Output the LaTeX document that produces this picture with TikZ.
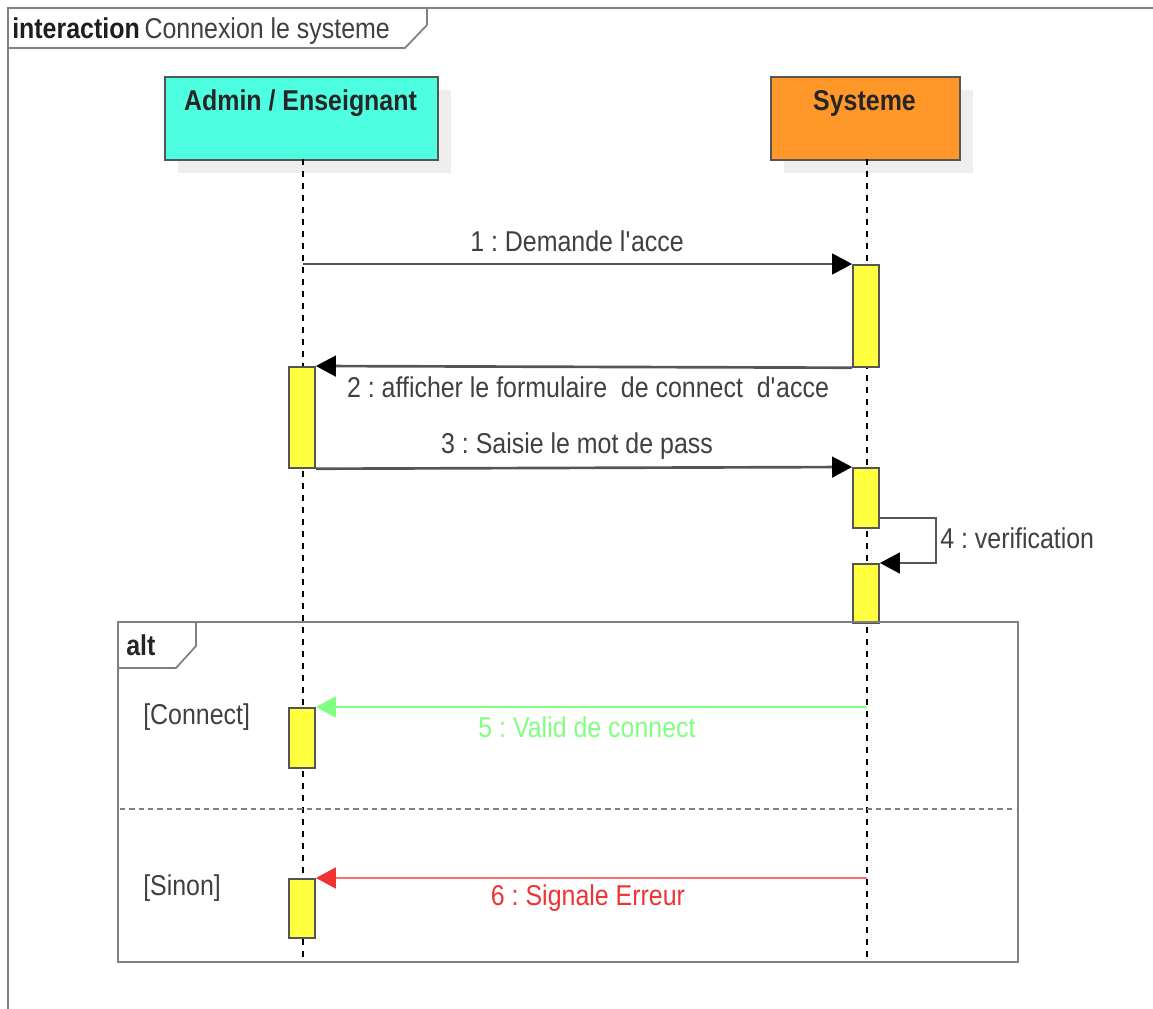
\documentclass[tikz,border=0pt]{standalone}
\usepackage{fontspec}
\setmainfont[FakeStretch=0.87]{Liberation Sans}
\usetikzlibrary{arrows.meta}
\frenchspacing
\definecolor{framegray}{RGB}{128,128,128}
\definecolor{linegray}{RGB}{85,85,85}
\definecolor{txtgray}{RGB}{64,64,64}
\definecolor{actorcyan}{RGB}{77,255,224}
\definecolor{sysorange}{RGB}{255,152,40}
\definecolor{actyellow}{RGB}{255,255,64}
\definecolor{shadowgray}{RGB}{238,238,238}
\definecolor{okgreen}{RGB}{128,255,128}
\definecolor{errred}{RGB}{240,50,50}
\definecolor{errline}{RGB}{255,110,110}
\begin{document}
\begin{tikzpicture}[x=0.75pt,y=-0.75pt,
  every node/.style={font=\fontsize{21.5}{24}\selectfont},
  frameline/.style={draw=framegray,line width=2.2pt},
  lifeline/.style={draw=black,line width=1.1pt,dash pattern=on 4.5pt off 4.5pt},
  actor/.style={draw=linegray,line width=1.3pt,minimum width=204.75pt,minimum height=62.25pt,inner sep=0pt,anchor=north west},
  act/.style={draw=linegray,fill=actyellow,line width=1.3pt,minimum width=19.5pt,inner sep=0pt,anchor=north},
  msg/.style={draw=linegray,line width=2pt,-{Triangle[length=15pt,width=15.5pt,color=black]}},
  lbl/.style={text=txtgray,inner sep=0pt},
  bold/.style={font=\fontsize{21.5}{24}\selectfont\bfseries,text=black!85,inner sep=0pt}
]
\useasboundingbox (0,0) rectangle (1153,1009);
% outer interaction frame
\draw[frameline] (8,1009) -- (8,8) -- (1153,8);
\draw[draw=framegray,line width=1.3pt,fill=white] (8,8) -- (427,8) -- (427,25) -- (405,48) -- (8,48) -- cycle;
\node[anchor=west,inner sep=0pt] (title) at (12,31) {\textcolor[RGB]{30,30,30}{\bfseries interaction}\,\textcolor{txtgray}{Connexion le systeme}};
% shadows
\fill[shadowgray] (178,90) rectangle (451,173);
\fill[shadowgray] (784,90) rectangle (973,173);
% actors
\node[actor,fill=actorcyan] (admin) at (164,76) {};
\node[bold] (admint) at (300.5,103) {Admin / Enseignant};
\node[actor,fill=sysorange,minimum width=141.75pt] (sys) at (770,76) {};
\node[bold] (syst) at (864.5,103) {Systeme};
% lifelines
\coordinate (adminend) at (303,962);
\coordinate (sysend) at (867,962);
\draw[lifeline] (303,159) -- (adminend);
\draw[lifeline] (867,159) -- (sysend);
% activations
\node[act,minimum height=76.5pt] (a1) at (866,264) {};
\node[act,minimum height=75.75pt] (a2) at (302,366) {};
\node[act,minimum height=45pt] (a3) at (866,467) {};
\node[act,minimum height=44.25pt] (a4) at (866,563) {};
\node[act,minimum height=45pt] (a5) at (302,707) {};
\node[act,minimum height=44.25pt] (a6) at (302,878) {};
% messages
\coordinate (m1s) at (303,264);
\draw[msg] (m1s) -- (a1.north west);
\node[lbl] (l1) at (577,241) {1 : Demande l\textquotesingle acce};
\draw[msg] (a1.south west) -- (a2.north east);
\node[lbl] (l2) at (588,387) {2 : afficher le formulaire\ \ de connect\ \ d\textquotesingle acce};
\draw[msg] (a2.south east) -- (a3.north west);
\node[lbl] (l3) at (577,446) {3 : Saisie le mot de pass};
\coordinate (s4a) at (936,518);
\coordinate (s4b) at (936,563);
\draw[msg] (a3.east |- s4a) -- (s4a) -- (s4b) -- (a4.north east);
\node[lbl,anchor=west] (l4) at (940,538) {4 : verification};
% alt fragment
\draw[frameline] (118,622) rectangle (1018,962);
\draw[draw=framegray,line width=1.3pt,fill=white] (118,622) -- (196,622) -- (196,646) -- (176,668) -- (118,668) -- cycle;
\node[bold,anchor=west] (alt) at (126,645) {alt};
\draw[draw=framegray,line width=0.9pt,dash pattern=on 4pt off 3pt] (120,809) -- (1016,809);
\node[lbl,anchor=west] (g1) at (143,717) {[Connect]};
\node[lbl,anchor=west] (g2) at (143,888) {[Sinon]};
\coordinate (m5s) at (867,707);
\draw[msg,draw=okgreen,line width=2.2pt,-{Triangle[length=15pt,width=15.5pt,color=okgreen]}] (m5s) -- (a5.north east);
\node[lbl,text=okgreen] (l5) at (587,727) {5 : Valid de connect};
\coordinate (m6s) at (867,878);
\draw[msg,draw=errline,line width=2.2pt,-{Triangle[length=15pt,width=15.5pt,color=errred]}] (m6s) -- (a6.north east);
\node[lbl,text=errred] (l6) at (588,898) {6 : Signale Erreur};
\end{tikzpicture}
\end{document}
